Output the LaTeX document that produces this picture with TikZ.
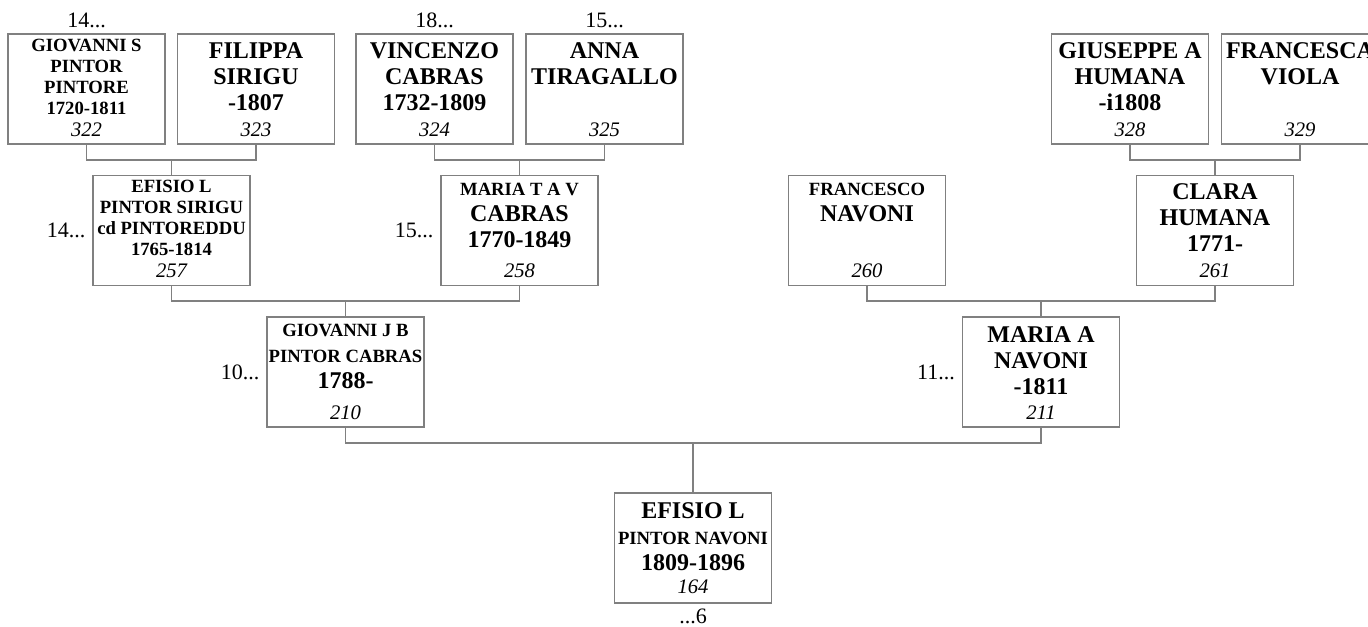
\documentclass[tikz,border=0pt]{standalone}
\usepackage{fontspec}
\setmainfont{Liberation Serif}
\usepackage{tikz}
\usetikzlibrary{positioning}
\definecolor{linegray}{RGB}{128,128,128}
\newcommand{\lgname}{\fontsize{18}{19.5}\selectfont}
\newcommand{\smname}{\fontsize{14}{15.75}\selectfont}

\begin{document}
\begin{tikzpicture}[
    x=0.75pt, y=-0.75pt,
    pbox/.style={rectangle, draw=linegray, line width=1.1pt, minimum width=117.75pt, minimum height=82.5pt, inner sep=0pt},
    ptext/.style={align=center, inner sep=0pt, font=\bfseries\lgname},
    psmall/.style={ptext, font=\bfseries\smname},
    pnum/.style={inner sep=0pt, font=\itshape\fontsize{15.5}{18}\selectfont},
    gen/.style={inner sep=0pt, font=\fontsize{16.5}{18}\selectfont},
    link/.style={draw=linegray, line width=1.1pt}
]
    \useasboundingbox (0,0) rectangle (1368,626);

    % great-grandparents
    \node[pbox] (p322) at (86.5,89) {};
    \node[psmall, below=4.5pt of p322.north] (t322) {GIOVANNI S\\PINTOR\\PINTORE\\1720-1811};
    \node[pnum, above=6pt of p322.south] (n322) {322};
    \node[gen, above=3.75pt of p322] (g322) {14...};

    \node[pbox] (p323) at (256,89) {};
    \node[ptext, below=6.75pt of p323.north] (t323) {FILIPPA\\SIRIGU\\-1807};
    \node[pnum, above=6pt of p323.south] (n323) {323};

    \node[pbox] (p324) at (434.5,89) {};
    \node[ptext, below=6.75pt of p324.north] (t324) {VINCENZO\\CABRAS\\1732-1809};
    \node[pnum, above=6pt of p324.south] (n324) {324};
    \node[gen, above=3.75pt of p324] (g324) {18...};

    \node[pbox] (p325) at (604.5,89) {};
    \node[ptext, below=6.75pt of p325.north] (t325) {ANNA\\TIRAGALLO};
    \node[pnum, above=6pt of p325.south] (n325) {325};
    \node[gen, above=3.75pt of p325] (g325) {15...};

    \node[pbox] (p328) at (1130,89) {};
    \node[ptext, below=6.75pt of p328.north] (t328) {GIUSEPPE A\\HUMANA\\-i1808};
    \node[pnum, above=6pt of p328.south] (n328) {328};

    \node[pbox] (p329) at (1300,89) {};
    \node[ptext, below=6.75pt of p329.north] (t329) {FRANCESCA\\VIOLA};
    \node[pnum, above=6pt of p329.south] (n329) {329};

    % grandparents
    \node[pbox] (p257) at (171.5,230.5) {};
    \node[psmall, below=3.75pt of p257.north] (t257) {EFISIO L\\PINTOR SIRIGU\\cd PINTOREDDU\\1765-1814};
    \node[pnum, above=6pt of p257.south] (n257) {257};
    \node[gen, left=5pt of p257] (g257) {14...};

    \node[pbox] (p258) at (519.5,230.5) {};
    \node[ptext, below=6pt of p258.north] (t258) {{\smname MARIA T A V}\\CABRAS\\1770-1849};
    \node[pnum, above=6pt of p258.south] (n258) {258};
    \node[gen, left=5pt of p258] (g258) {15...};

    \node[pbox] (p260) at (867,230.5) {};
    \node[ptext, below=6pt of p260.north] (t260) {{\smname FRANCESCO}\\NAVONI};
    \node[pnum, above=6pt of p260.south] (n260) {260};

    \node[pbox] (p261) at (1215,230.5) {};
    \node[ptext, below=6.75pt of p261.north] (t261) {CLARA\\HUMANA\\1771-};
    \node[pnum, above=6pt of p261.south] (n261) {261};

    % parents
    \node[pbox] (p210) at (345.5,372) {};
    \node[ptext, below=6pt of p210.north] (t210) {{\smname GIOVANNI J B}\\{\smname PINTOR CABRAS}\\1788-};
    \node[pnum, above=6pt of p210.south] (n210) {210};
    \node[gen, left=5pt of p210] (g210) {10...};

    \node[pbox] (p211) at (1041,372) {};
    \node[ptext, below=7.5pt of p211.north] (t211) {MARIA A\\NAVONI\\-1811};
    \node[pnum, above=6pt of p211.south] (n211) {211};
    \node[gen, left=5pt of p211] (g211) {11...};

    % root
    \node[pbox] (p164) at (693,548) {};
    \node[ptext, below=7.5pt of p164.north] (t164) {EFISIO L\\{\smname PINTOR NAVONI}\\1809-1896};
    \node[pnum, above=7.5pt of p164.south] (n164) {164};
    \node[gen, below=3.5pt of p164] (g164) {...6};

    % family lines
    \coordinate (f257) at (p257.north |- 0,160);
    \coordinate (f258) at (p258.north |- 0,160);
    \coordinate (f261) at (p261.north |- 0,160);
    \coordinate (f210) at (p210.north |- 0,301);
    \coordinate (f211) at (p211.north |- 0,301);
    \coordinate (f164) at (p164.north |- 0,443);

    \draw[link] (p322.south) |- (f257) -| (p323.south);
    \draw[link] (f257) -- (p257.north);
    \draw[link] (p324.south) |- (f258) -| (p325.south);
    \draw[link] (f258) -- (p258.north);
    \draw[link] (p328.south) |- (f261) -| (p329.south);
    \draw[link] (f261) -- (p261.north);
    \draw[link] (p257.south) |- (f210) -| (p258.south);
    \draw[link] (f210) -- (p210.north);
    \draw[link] (p260.south) |- (f211) -| (p261.south);
    \draw[link] (f211) -- (p211.north);
    \draw[link] (p210.south) |- (f164) -| (p211.south);
    \draw[link] (f164) -- (p164.north);
\end{tikzpicture}
\end{document}
